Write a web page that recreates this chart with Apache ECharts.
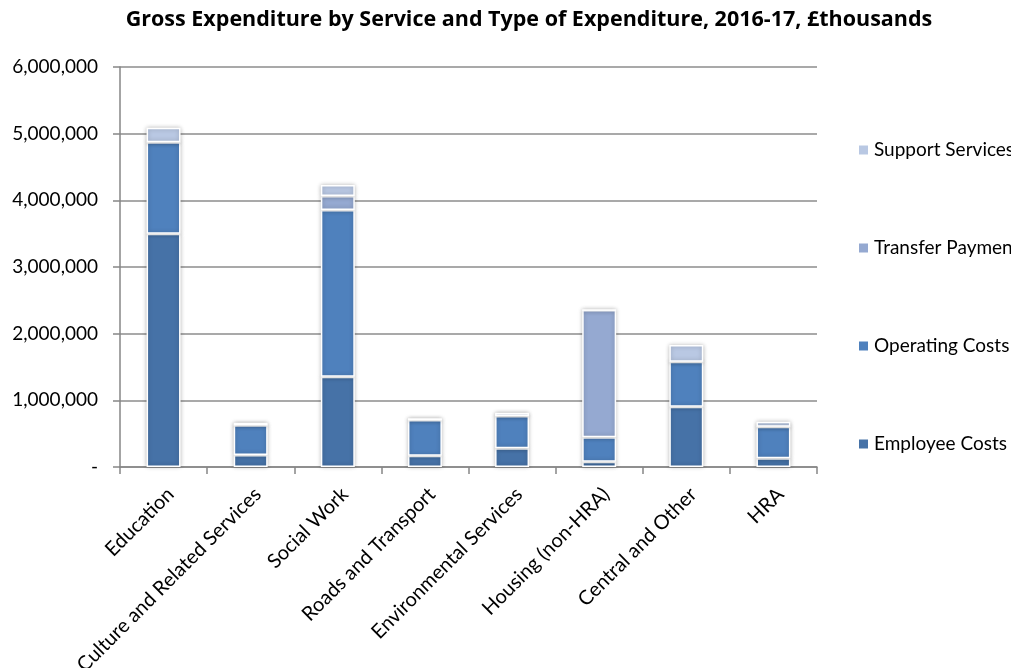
<!DOCTYPE html>
<html>
<head>
<meta charset="utf-8">
<script src="https://cdn.jsdelivr.net/npm/echarts@6/dist/echarts.min.js"></script>
<style>
  html, body { margin: 0; padding: 0; background: #ffffff; }
  #chart { width: 1011px; height: 668px; }
</style>
</head>
<body>
<div id="chart"></div>
<script>
// Services on the category axis
var services = ['Education', 'Culture and Related Services', 'Social Work', 'Roads and Transport',
  'Environmental Services', 'Housing (non-HRA)', 'Central and Other', 'HRA'];

// Gross expenditure by type, £thousands
var employeeCosts   = [3500000, 180000, 1355000, 170000, 280000,   80000, 905000, 130000];
var operatingCosts  = [1370000, 445000, 2500000, 535000, 485000,  365000, 675000, 475000];
var transferPayments = [      0,      0,  210000,      0,      0, 1910000,      0,      0];
var supportServices = [ 220000,  40000,  165000,  25000,  50000,       0, 250000,  75000];

// Value axis ticks
var yTicks = [0, 1000000, 2000000, 3000000, 4000000, 5000000, 6000000];

var FONT = 'Lato, "Open Sans", sans-serif';
var TITLE_FONT = '"Open Sans", Lato, sans-serif';
var COLORS = {
  employee: '#4672a7',
  operating: '#4f81bd',
  transfer: '#95a9d1',
  support: '#b9c8e3'
};

function fmt(v) {
  if (v === 0) return '-';
  return String(v).replace(/\B(?=(\d{3})+(?!\d))/g, ',');
}

function makeSeries(name, data, color) {
  return {
    name: name,
    type: 'bar',
    stack: 'total',
    data: data,
    barWidth: '39%',
    itemStyle: {
      color: color,
      borderColor: '#ffffff',
      borderWidth: 1.5,
      shadowBlur: 4,
      shadowColor: 'rgba(0,0,0,0.25)'
    }
  };
}

var chart = echarts.init(document.getElementById('chart'), null, { renderer: 'canvas' });
chart.setOption({
  animation: false,
  backgroundColor: '#ffffff',
  title: {
    text: 'Gross Expenditure by Service and Type of Expenditure, 2016-17, £thousands',
    left: 524,
    textAlign: 'center',
    top: 4,
    textStyle: { fontFamily: TITLE_FONT, fontWeight: 'bold', fontSize: 21.5, color: '#000000' }
  },
  legend: {
    orient: 'vertical',
    left: 852,
    top: 134,
    itemGap: 76,
    itemWidth: 11,
    itemHeight: 11,
    icon: 'rect',
    data: ['Support Services', 'Transfer Payments', 'Operating Costs', 'Employee Costs'],
    textStyle: { fontFamily: FONT, fontSize: 19, color: '#000000', lineHeight: 22 }
  },
  grid: { left: 120, right: 194, top: 67, bottom: 201, containLabel: false, outerBoundsMode: 'none' },
  xAxis: {
    type: 'category',
    data: services,
    axisLine: { lineStyle: { color: '#868686', width: 1.5 } },
    axisTick: { show: true, length: 7, lineStyle: { color: '#868686', width: 1.5 } },
    axisLabel: {
      rotate: 45,
      interval: 0,
      margin: 17,
      verticalAlign: 'top',
      fontFamily: FONT,
      fontSize: 20,
      color: '#000000'
    }
  },
  yAxis: {
    type: 'value',
    min: yTicks[0],
    max: yTicks[yTicks.length - 1],
    interval: yTicks[1] - yTicks[0],
    axisLine: { show: true, lineStyle: { color: '#868686', width: 1.5 } },
    axisTick: { show: true, length: 7, lineStyle: { color: '#868686', width: 1.5 } },
    splitLine: { lineStyle: { color: '#8c8c8c', width: 1.5 } },
    axisLabel: {
      formatter: fmt,
      margin: 22,
      fontFamily: FONT,
      fontSize: 19,
      color: '#000000'
    }
  },
  series: [
    makeSeries('Employee Costs', employeeCosts, COLORS.employee),
    makeSeries('Operating Costs', operatingCosts, COLORS.operating),
    makeSeries('Transfer Payments', transferPayments, COLORS.transfer),
    makeSeries('Support Services', supportServices, COLORS.support)
  ]
});
</script>
</body>
</html>
